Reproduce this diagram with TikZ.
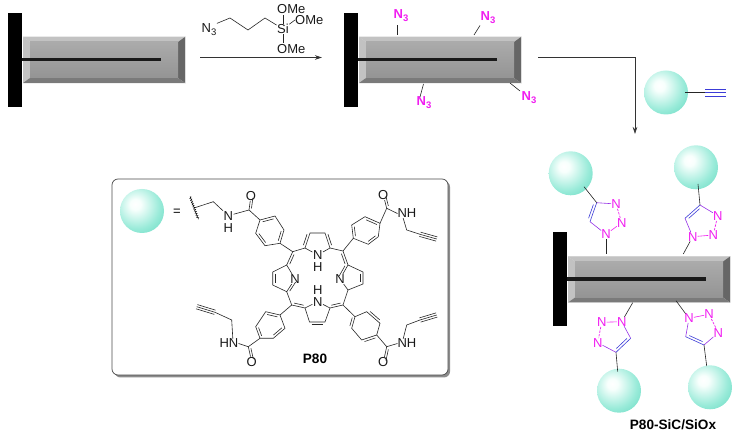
\documentclass[tikz,border=0pt]{standalone}
\usepackage{fontspec}
\setmainfont{Liberation Sans}
\usetikzlibrary{calc,arrows.meta,decorations.pathmorphing}
\definecolor{tzn}{RGB}{240,30,240}
\definecolor{tzb}{RGB}{60,60,215}
\definecolor{tzm}{RGB}{150,50,230}
\pgfdeclareradialshading{tealball}{\pgfpoint{-8bp}{8bp}}{%
  rgb(0bp)=(1,1,1); rgb(6bp)=(0.97,1,0.99); rgb(26bp)=(0.60,0.92,0.85);
  rgb(44bp)=(0.36,0.84,0.74); rgb(58bp)=(0.28,0.78,0.68); rgb(100bp)=(0.25,0.74,0.64)}
\tikzset{
  x=1pt,y=-1pt,
  bond/.style={line width=0.6pt,black!85},
  atom/.style={inner sep=0.4pt,font=\fontsize{13}{13}\selectfont,text=black!90},
  natom/.style={inner sep=0pt,font=\fontsize{13}{13}\selectfont,text=tzn},
  azide/.style={inner sep=0.8pt,font=\bfseries\fontsize{13}{13}\selectfont,text=tzn},
  arrowline/.style={line width=0.6pt,black!80,-{Stealth[length=7pt,width=4.5pt]}},
  title/.style={inner sep=0pt,font=\bfseries\fontsize{13.6}{14}\selectfont},
}
\newcommand\subn[1]{\raisebox{-3pt}{\fontsize{9.5}{9.5}\selectfont #1}}
% inner line of a double bond
\newcommand\dbl[4][bond]{\draw[#1] ($(#2)!0.14!(#3)!#4!90:(#3)$) -- ($(#3)!0.14!(#2)!#4!-90:(#2)$);}
\newcommand\tpl[2]{\draw[bond] (#1) -- (#2);
  \draw[bond] ($(#1)!2.2pt!90:(#2)$) -- ($(#2)!2.2pt!-90:(#1)$);
  \draw[bond] ($(#1)!2.2pt!-90:(#2)$) -- ($(#2)!2.2pt!90:(#1)$);}
\newcommand\substrate[2]{%
  \begin{scope}[shift={(#1,#2)}]
    \fill[black!6] (23,36.5) rectangle (185.6,83.6);
    \fill[black!24] (23,37) -- (185,37) -- (178,42) -- (30,42) -- cycle;
    \fill[black!24] (23,37) -- (30,42) -- (30,78) -- (23,83) -- cycle;
    \fill[black!60] (185,37) -- (178,42) -- (178,78) -- (185,83) -- cycle;
    \fill[black!52] (23,83) -- (30,78) -- (178,78) -- (185,83) -- cycle;
    \shade[top color=black!33,bottom color=black!42] (30,42) rectangle (178,78);
    \fill[black] (8,13) rectangle (22,107);
    \fill[black!90] (22,58) rectangle (161,61.3);
  \end{scope}}
\newcommand\ball[2]{\path[shading=tealball] (#2) ++(-22,0) arc[start angle=180,end angle=-180,radius=22pt];\coordinate (#1) at (#2);}
% prefix, N1, N2, N3, C4, C5, sign for inner bond side
\newcommand\triazole[7]{%
  \node[natom] (#1n1) at (#2) {N};
  \node[natom] (#1n2) at (#3) {N};
  \node[natom] (#1n3) at (#4) {N};
  \coordinate (#1c4) at (#5);
  \coordinate (#1c5) at (#6);
  \draw[line width=0.6pt,tzn] (#1n1) -- (#1n2);
  \draw[line width=0.7pt,tzn,dash pattern=on 2.4pt off 1.2pt] (#1n2) -- (#1n3);
  \draw[line width=0.6pt,tzm] (#1n3) -- (#1c4);
  \draw[line width=0.6pt,tzm] (#1c5) -- (#1n1);
  \draw[line width=0.6pt,tzb] (#1c4) -- (#1c5);
  \dbl[line width=0.6pt,tzb]{#1c4}{#1c5}{#72.5pt}
}
\begin{document}
\begin{tikzpicture}
\useasboundingbox (0,0) rectangle (740,438);
% ---- substrates
\substrate{0}{0}
\substrate{336}{0}
\substrate{545}{219.5}

% ---- reagent
\node[atom] (rn) at (209,30) {N\subn{3}};
\coordinate (r1) at (230,18);
\coordinate (r2) at (248,30);
\coordinate (r3) at (265,18);
\node[atom] (si) at (283,29) {Si};
\node[atom,anchor=west,inner sep=0pt] (ome1) at (277,9) {OMe};
\node[atom,anchor=west,inner sep=0pt] (ome2) at (295,20) {OMe};
\node[atom,anchor=west,inner sep=0pt] (ome3) at (277,49.5) {OMe};
\draw[bond] (rn.north east) -- (r1) -- (r2) -- (r3) -- (si);
\draw[bond] (si) -- (283,15);
\draw[bond] (si) -- (ome2.west);
\draw[bond] (si) -- (283,43);

% ---- arrows
\coordinate (a1s) at (200,57.5);
\coordinate (a1e) at (322,57.5);
\draw[arrowline] (a1s) -- (a1e);
\coordinate (a2s) at (538,57);
\coordinate (a2m) at (635,57);
\coordinate (a2e) at (635,134);
\draw[arrowline] (a2s) -- (a2m) -- (a2e);

% ---- azide groups
\node[azide] (az1) at (401,16) {N\subn{3}};
\node[azide] (az2) at (488,18) {N\subn{3}};
\node[azide] (az3) at (424,103) {N\subn{3}};
\node[azide] (az4) at (529,98) {N\subn{3}};
\coordinate (st1) at (397.5,35); \coordinate (st1t) at (397.5,25);
\coordinate (st2) at (474,35);   \coordinate (st2t) at (480,25.5);
\coordinate (st3) at (423.5,84); \coordinate (st3t) at (420,97);
\coordinate (st4) at (510,83);   \coordinate (st4t) at (520,91);
\draw[bond] (st1) -- (st1t);
\draw[bond] (st2) -- (st2t);
\draw[bond] (st3) -- (st3t);
\draw[bond] (st4) -- (st4t);

% ---- alkyne sphere
\ball{sph0}{666,92.5}
\coordinate (al0) at (705,92.5);
\coordinate (al1) at (726,92.5);
\draw[bond] (685,92.5) -- (al0);
\draw[line width=0.6pt,tzb] (al0) -- (al1);
\draw[line width=0.6pt,tzb] (705,89) -- (726,89);
\draw[line width=0.6pt,tzb] (705,96) -- (726,96);

% ---- legend box
\fill[black!45,rounded corners=6pt] (114.5,181) rectangle (450,377.5);
\draw[line width=0.7pt,black!70,fill=white,rounded corners=6pt] (112,179) rectangle (448,375);
\ball{sph1}{142,211}
\node[inner sep=0pt,font=\fontsize{13}{13}\selectfont] (eq) at (177,212) {=};

% wavy end and top-left arm
\coordinate (wa) at (190,196.7);
\coordinate (wb) at (198.3,219.3);
\draw[line width=0.5pt,decorate,decoration={snake,amplitude=0.9pt,segment length=2.2pt}] (wa) -- (wb);
\coordinate (w0) at (195,207.7);
\coordinate (tl0) at (213.3,201.7);
\node[atom] (tln) at (228.3,215.7) {N};
\node[atom] (tlh) at (228.3,227.7) {H};
\coordinate (tlc) at (249,210);
\node[atom] (tlo) at (251,195.7) {O};
\draw[bond] (w0) -- (tl0) -- (tln);
\draw[bond] (tln) -- (tlc);
\draw[bond] (tlc) -- (tlo);
\dbl{tlc}{tlo}{-2.2pt}
% benzene TL
\coordinate (ta) at (260,220);
\coordinate (tb) at (275,216);
\coordinate (tc) at (284,230);
\coordinate (td) at (280,243.3);
\coordinate (te) at (265,245.7);
\coordinate (tf) at (255.7,233.3);
\draw[bond] (tlc) -- (ta);
\draw[bond] (ta) -- (tb) -- (tc) -- (td) -- (te) -- (tf) -- cycle;
\dbl{ta}{tb}{-2.4pt}\dbl{tc}{td}{-2.4pt}\dbl{te}{tf}{-2.4pt}

% porphyrin
\coordinate (mtl) at (292.7,251.7);
\coordinate (mtr) at (343,251);
\coordinate (mbl) at (291.7,305);
\coordinate (mbr) at (343,305);
% top pyrrole
\coordinate (pa1) at (305,248);
\coordinate (pa2) at (310,233);
\coordinate (pa3) at (325,233);
\coordinate (pa4) at (330,248);
\node[atom] (pn) at (317.7,255) {N};
\node[atom] (ph) at (317.7,267) {H};
\draw[bond] (pn) -- (pa1) -- (pa2) -- (pa3) -- (pa4) -- (pn);
\dbl{pa1}{pa2}{2.4pt}\dbl{pa3}{pa4}{2.4pt}
% bottom pyrrole
\coordinate (qa1) at (305,308);
\coordinate (qa2) at (309.5,322);
\coordinate (qa3) at (325,322);
\coordinate (qa4) at (330,308);
\node[atom] (qn) at (317.7,301.7) {N};
\node[atom] (qh) at (317.7,289.7) {H};
\draw[bond] (qn) -- (qa1) -- (qa2) -- (qa3) -- (qa4) -- (qn);
\dbl{qa2}{qa3}{-2.4pt}
% left pyrrole
\coordinate (la1) at (286.7,265);
\coordinate (la2) at (272.7,272);
\coordinate (la3) at (272.7,285);
\coordinate (la4) at (286.7,291.7);
\node[atom] (ln) at (295,279) {N};
\draw[bond] (ln) -- (la1) -- (la2) -- (la3) -- (la4) -- (ln);
\dbl{la2}{la3}{2.4pt}\dbl{la4}{ln}{-2.2pt}
% right pyrrole
\coordinate (ra1) at (348,265);
\coordinate (ra2) at (363,272);
\coordinate (ra3) at (363,284);
\coordinate (ra4) at (348,290);
\node[atom] (rnn) at (340,279) {N};
\draw[bond] (rnn) -- (ra1) -- (ra2) -- (ra3) -- (ra4) -- (rnn);
\dbl{ra2}{ra3}{-2.4pt}\dbl{rnn}{ra1}{2.2pt}
% meso links
\draw[bond] (mtl) -- (pa1) (pa4) -- (mtr) (mtl) -- (la1) (mtr) -- (ra1);
\draw[bond] (la4) -- (mbl) -- (qa1) (qa4) -- (mbr) -- (ra4);
\dbl{mtl}{la1}{2.4pt}\dbl{mtr}{ra1}{-2.4pt}
\dbl{mbl}{qa1}{2.4pt}\dbl{qa4}{mbr}{2.4pt}
\draw[bond] (td) -- (mtl);

% top-right arm
\coordinate (ua) at (351.7,225);
\coordinate (ub) at (365,216.7);
\coordinate (uc) at (380,223.3);
\coordinate (ud) at (378.3,236.7);
\coordinate (ue) at (368.3,244.3);
\coordinate (uf) at (353.3,238.3);
\draw[bond] (ua) -- (ub) -- (uc) -- (ud) -- (ue) -- (uf) -- cycle;
\dbl{ub}{uc}{-2.4pt}\dbl{ud}{ue}{-2.4pt}\dbl{uf}{ua}{-2.4pt}
\draw[bond] (mtr) -- (uf);
\coordinate (uco) at (386.7,208.3);
\node[atom] (uo) at (383.3,195) {O};
\node[atom,inner sep=0pt] (unh) at (407,213.5) {NH};
\coordinate (u1) at (406.7,230);
\coordinate (u2) at (420,234.3);
\coordinate (u3) at (436.7,239);
\draw[bond] (uc) -- (uco) -- (unh.west);
\draw[bond] (uco) -- (uo);
\dbl{uco}{uo}{-2.2pt}
\draw[bond] ($(unh.south west)!0.3!(unh.south east)$) -- (u1) -- (u2);
\tpl{u2}{u3}

% bottom-left arm
\coordinate (va) at (280,315);
\coordinate (vb) at (285,328.3);
\coordinate (vc) at (273.3,338.3);
\coordinate (vd) at (260,338.3);
\coordinate (ve) at (255.7,326.7);
\coordinate (vf) at (265.7,311.7);
\draw[bond] (va) -- (vb) -- (vc) -- (vd) -- (ve) -- (vf) -- cycle;
\dbl{vb}{vc}{-2.4pt}\dbl{vd}{ve}{-2.4pt}\dbl{vf}{va}{-2.4pt}
\draw[bond] (mbl) -- (va);
\coordinate (vco) at (248.3,346.7);
\node[atom] (vo) at (251.7,361.7) {O};
\node[atom,inner sep=0pt] (vnh) at (229,343.5) {HN};
\coordinate (v1) at (231.7,320);
\coordinate (v2) at (215,312.3);
\coordinate (v3) at (196.7,306.7);
\draw[bond] (vd) -- (vco) -- (vnh.east);
\draw[bond] (vco) -- (vo);
\dbl{vco}{vo}{2.2pt}
\draw[bond] ($(vnh.north west)!0.7!(vnh.north east)$) -- (v1) -- (v2);
\tpl{v2}{v3}

% bottom-right arm
\coordinate (wc1) at (355,316.7);
\coordinate (wc2) at (366.7,311.7);
\coordinate (wc3) at (380,323.3);
\coordinate (wc4) at (376.7,335);
\coordinate (wc5) at (361.7,340);
\coordinate (wc6) at (351.7,328.3);
\draw[bond] (wc1) -- (wc2) -- (wc3) -- (wc4) -- (wc5) -- (wc6) -- cycle;
\dbl{wc2}{wc3}{2.4pt}\dbl{wc4}{wc5}{2.4pt}\dbl{wc6}{wc1}{2.4pt}
\draw[bond] (mbr) -- (wc1);
\coordinate (wco) at (386.7,346.7);
\node[atom] (wo) at (383.3,362.3) {O};
\node[atom,inner sep=0pt] (wnh) at (407,343.5) {NH};
\coordinate (w1) at (406.7,325);
\coordinate (w2) at (420,320);
\coordinate (w3) at (436.7,315);
\draw[bond] (wc4) -- (wco) -- (wnh.west);
\draw[bond] (wco) -- (wo);
\dbl{wco}{wo}{2.2pt}
\draw[bond] ($(wnh.north west)!0.3!(wnh.north east)$) -- (w1) -- (w2);
\tpl{w2}{w3}

\node[title] (p80) at (315,359) {P80};

% ---- product spheres and triazoles
\ball{s1}{570.7,173.3}
\ball{s2}{696,167.3}
\ball{s3}{619,390.7}
\ball{s4}{710,387.3}
\triazole{a}{606,234.3}{621.7,222.7}{616,204}{596.7,202.7}{590,221.7}{-}
\triazole{b}{692.7,236.7}{713.3,235}{717.7,215.7}{700,205}{685,218.3}{}
\triazole{c}{621.7,321.7}{601.7,322.3}{597.7,342.7}{616,352.3}{630.7,338.3}{}
\triazole{d}{689,318.3}{709,314.3}{718.3,332.7}{704,345}{685.7,336.7}{-}
\coordinate (as) at (584,186.7);
\coordinate (bs) at (698,184);
\coordinate (cs) at (617.7,371.7);
\coordinate (ds) at (706.7,366);
\coordinate (ab) at (606,254);
\coordinate (bb) at (683.3,254);
\coordinate (cb) at (632.7,302.7);
\coordinate (db) at (676,300.7);
\draw[bond] (ac4) -- (as);
\draw[bond] (bc4) -- (bs);
\draw[bond] (cc4) -- (cs);
\draw[bond] (dc4) -- (ds);
\draw[bond] (an1) -- (ab);
\draw[bond] (bn1) -- (bb);
\draw[bond] (cn1) -- (cb);
\draw[bond] (dn1) -- (db);

\node[title] (prod) at (673,425) {P80-SiC/SiOx};
\end{tikzpicture}
\end{document}
